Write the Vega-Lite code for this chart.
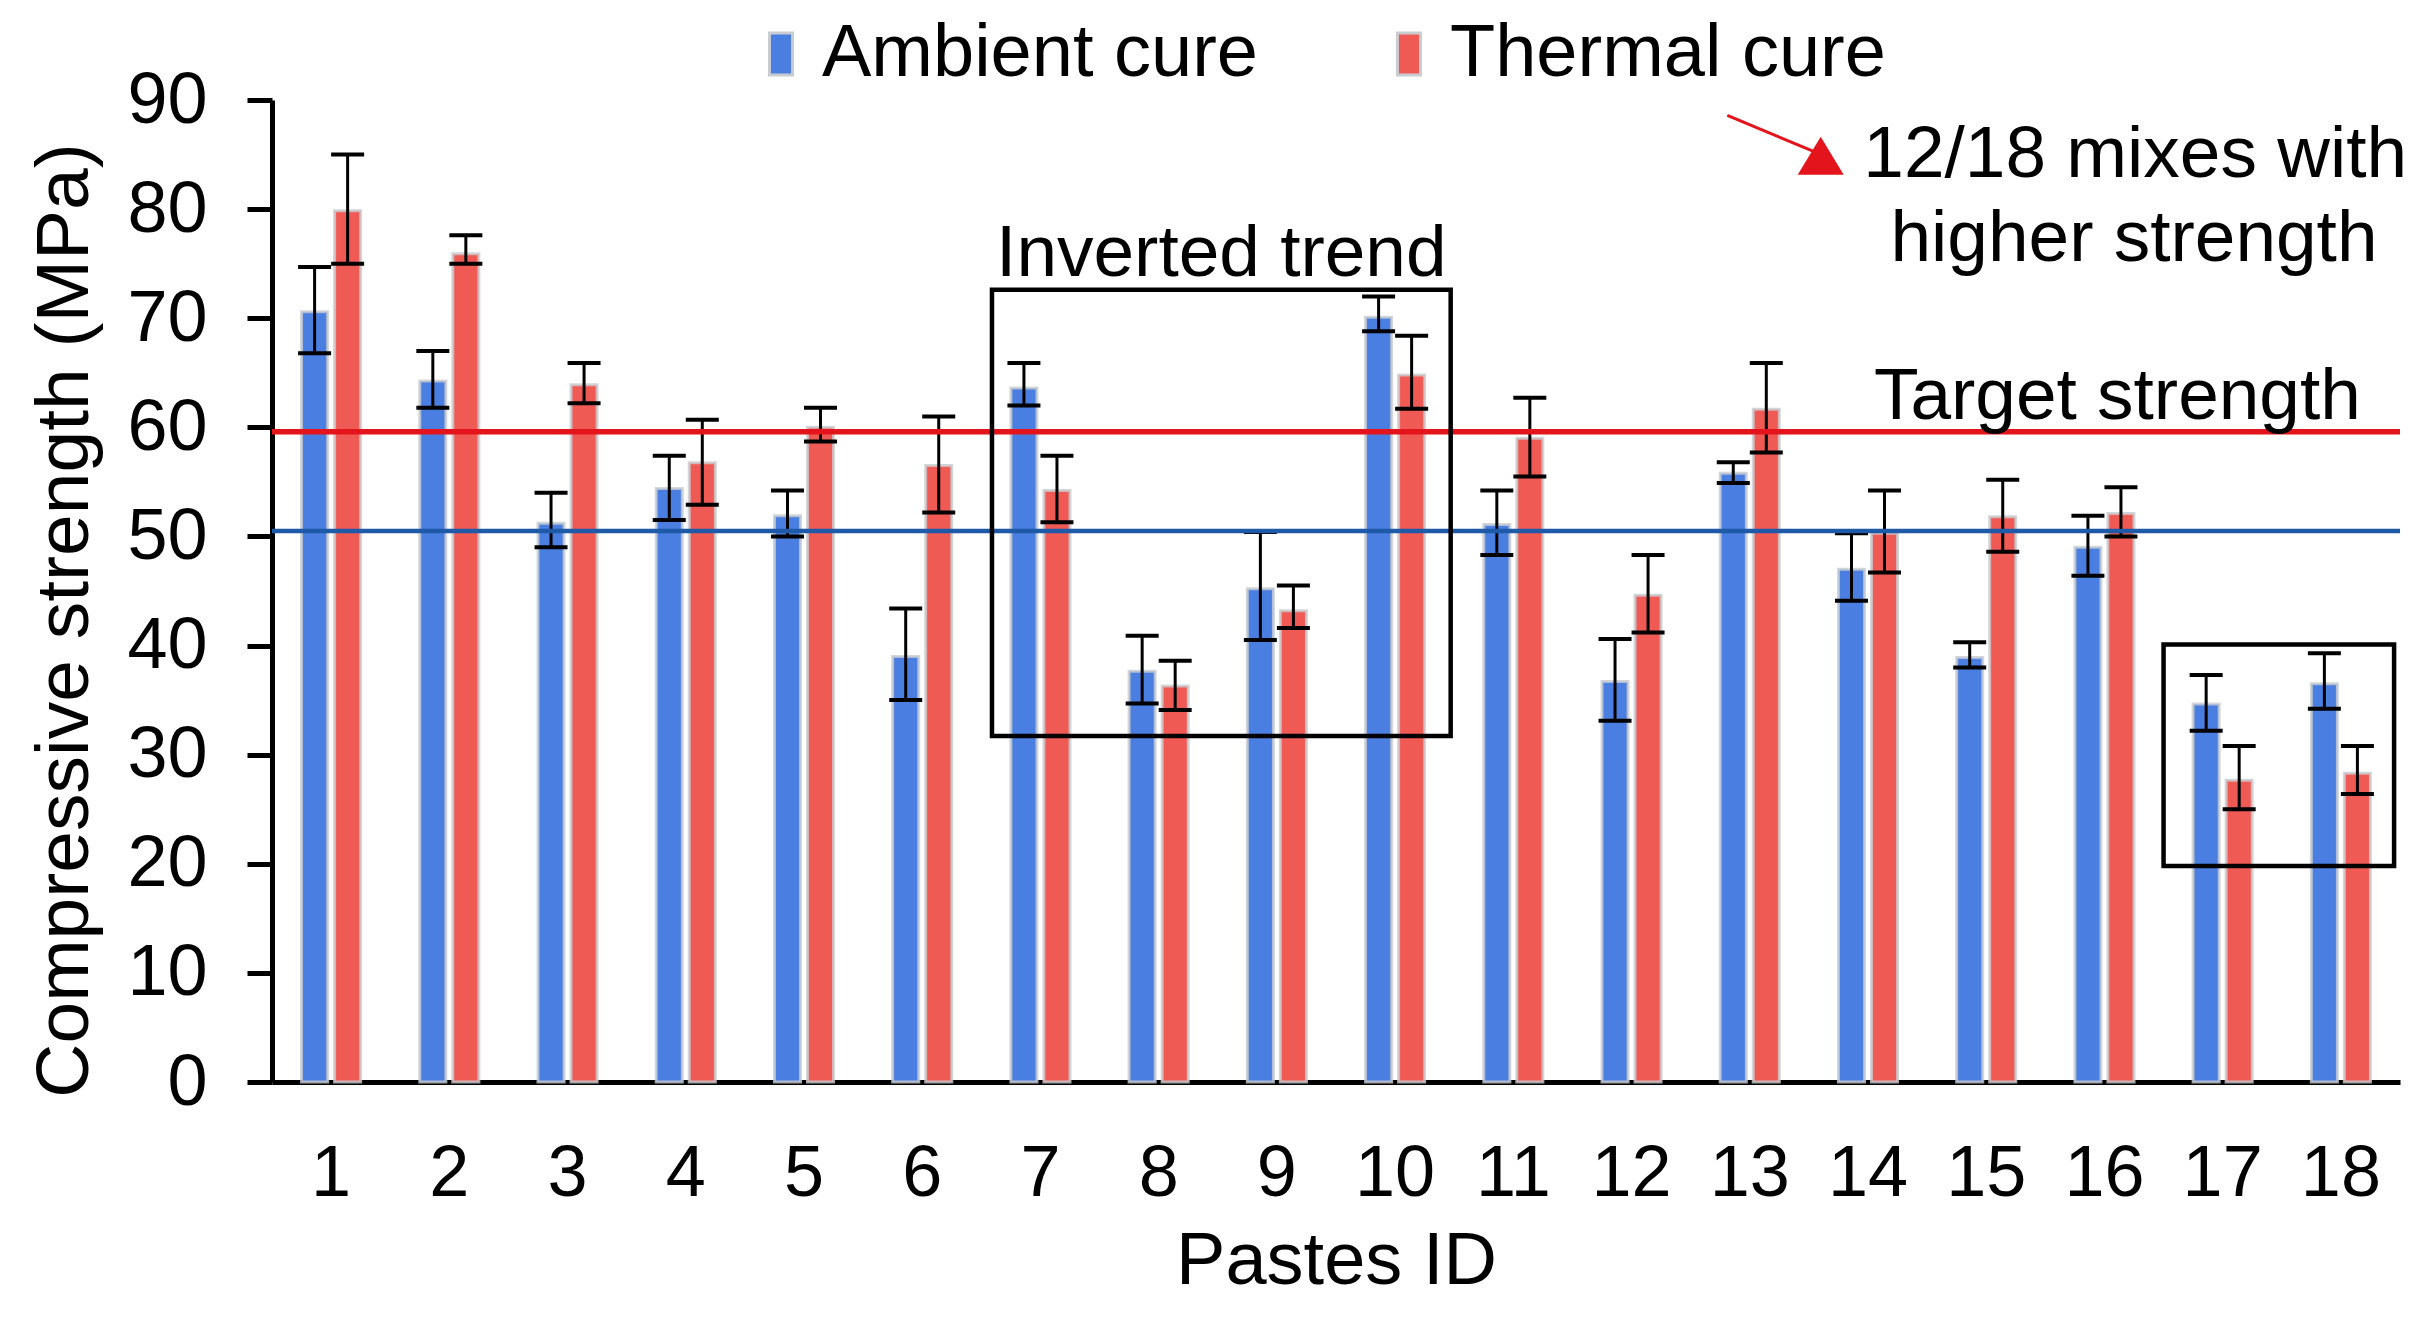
{
  "$schema": "https://vega.github.io/schema/vega-lite/v6.json",
  "width": 2128,
  "height": 982,
  "autosize": {"type": "none"},
  "padding": {"left": 272, "top": 100, "right": 30, "bottom": 235},
  "background": "white",
  "config": {"view": {"stroke": null}, "font": "Liberation Sans"},
  "data": {
    "values": [
      {"id": 1, "cure": "Ambient cure", "value": 70.6, "lower": 66.8, "upper": 74.7},
      {"id": 1, "cure": "Thermal cure", "value": 79.85, "lower": 75.0, "upper": 85.0},
      {"id": 2, "cure": "Ambient cure", "value": 64.25, "lower": 61.8, "upper": 67.0},
      {"id": 2, "cure": "Thermal cure", "value": 75.9, "lower": 75.0, "upper": 77.6},
      {"id": 3, "cure": "Ambient cure", "value": 51.2, "lower": 49.0, "upper": 54.0},
      {"id": 3, "cure": "Thermal cure", "value": 63.9, "lower": 62.2, "upper": 65.9},
      {"id": 4, "cure": "Ambient cure", "value": 54.4, "lower": 51.5, "upper": 57.4},
      {"id": 4, "cure": "Thermal cure", "value": 56.75, "lower": 52.9, "upper": 60.7},
      {"id": 5, "cure": "Ambient cure", "value": 51.9, "lower": 50.0, "upper": 54.2},
      {"id": 5, "cure": "Thermal cure", "value": 60.0, "lower": 58.7, "upper": 61.8},
      {"id": 6, "cure": "Ambient cure", "value": 39.0, "lower": 35.0, "upper": 43.4},
      {"id": 6, "cure": "Thermal cure", "value": 56.5, "lower": 52.2, "upper": 61.0},
      {"id": 7, "cure": "Ambient cure", "value": 63.6, "lower": 62.0, "upper": 65.9},
      {"id": 7, "cure": "Thermal cure", "value": 54.2, "lower": 51.3, "upper": 57.4},
      {"id": 8, "cure": "Ambient cure", "value": 37.65, "lower": 34.7, "upper": 40.9},
      {"id": 8, "cure": "Thermal cure", "value": 36.3, "lower": 34.1, "upper": 38.6},
      {"id": 9, "cure": "Ambient cure", "value": 45.2, "lower": 40.5, "upper": 50.4},
      {"id": 9, "cure": "Thermal cure", "value": 43.2, "lower": 41.6, "upper": 45.5},
      {"id": 10, "cure": "Ambient cure", "value": 70.1, "lower": 68.8, "upper": 72.0},
      {"id": 10, "cure": "Thermal cure", "value": 64.8, "lower": 61.7, "upper": 68.4},
      {"id": 11, "cure": "Ambient cure", "value": 51.1, "lower": 48.3, "upper": 54.2},
      {"id": 11, "cure": "Thermal cure", "value": 59.0, "lower": 55.5, "upper": 62.7},
      {"id": 12, "cure": "Ambient cure", "value": 36.7, "lower": 33.1, "upper": 40.6},
      {"id": 12, "cure": "Thermal cure", "value": 44.6, "lower": 41.2, "upper": 48.3},
      {"id": 13, "cure": "Ambient cure", "value": 55.8, "lower": 54.9, "upper": 56.8},
      {"id": 13, "cure": "Thermal cure", "value": 61.65, "lower": 57.7, "upper": 65.9},
      {"id": 14, "cure": "Ambient cure", "value": 47.0, "lower": 44.1, "upper": 50.3},
      {"id": 14, "cure": "Thermal cure", "value": 50.3, "lower": 46.7, "upper": 54.2},
      {"id": 15, "cure": "Ambient cure", "value": 38.9, "lower": 38.0, "upper": 40.3},
      {"id": 15, "cure": "Thermal cure", "value": 51.8, "lower": 48.6, "upper": 55.2},
      {"id": 16, "cure": "Ambient cure", "value": 49.0, "lower": 46.4, "upper": 51.9},
      {"id": 16, "cure": "Thermal cure", "value": 52.1, "lower": 50.0, "upper": 54.5},
      {"id": 17, "cure": "Ambient cure", "value": 34.65, "lower": 32.2, "upper": 37.3},
      {"id": 17, "cure": "Thermal cure", "value": 27.65, "lower": 25.0, "upper": 30.8},
      {"id": 18, "cure": "Ambient cure", "value": 36.5, "lower": 34.2, "upper": 39.3},
      {"id": 18, "cure": "Thermal cure", "value": 28.3, "lower": 26.4, "upper": 30.8}
    ]
  },
  "layer": [
    {
      "layer": [
        {
          "mark": {"type": "bar", "stroke": "#c9cdd1", "strokeWidth": 3, "strokeOpacity": 0.8},
          "encoding": {
            "x": {
              "field": "id",
              "type": "ordinal",
              "scale": {"paddingInner": 0.5, "paddingOuter": 0.25},
              "axis": {
                "title": "Pastes ID",
                "labelAngle": 0,
                "ticks": false,
                "tickSize": 0,
                "domainColor": "black",
                "domainWidth": 5,
                "labelFont": "Liberation Sans",
                "labelFontSize": 72,
                "labelColor": "black",
                "labelPadding": 56,
                "titleFont": "Liberation Sans",
                "titleFontSize": 74,
                "titleFontWeight": "normal",
                "titleColor": "black",
                "titlePadding": 16
              }
            },
            "xOffset": {"field": "cure", "type": "nominal", "scale": {"paddingInner": 0.21, "paddingOuter": 0}},
            "y": {
              "field": "value",
              "type": "quantitative",
              "scale": {"domain": [0, 90], "nice": false},
              "axis": {
                "values": [0, 10, 20, 30, 40, 50, 60, 70, 80, 90],
                "grid": false,
                "domainColor": "black",
                "domainWidth": 5,
                "tickColor": "black",
                "tickWidth": 5,
                "tickSize": 25,
                "labelFont": "Liberation Sans",
                "labelFontSize": 72,
                "labelColor": "black",
                "labelPadding": 40,
                "title": "Compressive strength (MPa)",
                "titleFont": "Liberation Sans",
                "titleFontSize": 75,
                "titleFontWeight": "normal",
                "titleColor": "black",
                "titlePadding": 23,
                "titleY": 520
              }
            },
            "color": {
              "field": "cure",
              "type": "nominal",
              "scale": {"domain": ["Ambient cure", "Thermal cure"], "range": ["#4a7ee0", "#f05a55"]},
              "legend": {
                "orient": "none",
                "legendX": 472,
                "legendY": -83,
                "direction": "horizontal",
                "title": null,
                "padding": 0,
                "symbolType": "M-0.55,-1L0.55,-1L0.55,1L-0.55,1Z",
                "symbolSize": 1764,
                "symbolStrokeColor": "#c9cdd1",
                "symbolStrokeWidth": 3,
                "labelFont": "Liberation Sans",
                "labelFontSize": 74,
                "labelColor": "black",
                "labelOffset": 4,
                "labelLimit": 0,
                "columnPadding": 114
              }
            }
          }
        },
        {
          "mark": {"type": "rule", "color": "black", "strokeWidth": 3},
          "encoding": {
            "x": {"field": "id", "type": "ordinal"},
            "xOffset": {"field": "cure", "type": "nominal"},
            "y": {"field": "lower", "type": "quantitative"},
            "y2": {"field": "upper"}
          }
        },
        {
          "mark": {"type": "tick", "orient": "horizontal", "size": 33, "thickness": 4, "color": "black", "opacity": 1},
          "encoding": {
            "x": {"field": "id", "type": "ordinal"},
            "xOffset": {"field": "cure", "type": "nominal"},
            "y": {"field": "lower", "type": "quantitative"}
          }
        },
        {
          "mark": {"type": "tick", "orient": "horizontal", "size": 33, "thickness": 4, "color": "black", "opacity": 1},
          "encoding": {
            "x": {"field": "id", "type": "ordinal"},
            "xOffset": {"field": "cure", "type": "nominal"},
            "y": {"field": "upper", "type": "quantitative"}
          }
        }
      ]
    },
    {
      "layer": [
        {
          "data": {"values": [{}]},
          "mark": {"type": "rule", "color": "#e3141b", "strokeWidth": 5.5},
          "encoding": {"y": {"datum": 59.6, "type": "quantitative"}}
        },
        {
          "data": {"values": [{}]},
          "mark": {"type": "rule", "color": "#1f5aa8", "strokeWidth": 4.5},
          "encoding": {"y": {"datum": 50.5, "type": "quantitative"}}
        },
        {
          "data": {"values": [{}]},
          "mark": {"type": "rect", "fillOpacity": 0, "stroke": "black", "strokeWidth": 4.5},
          "encoding": {
            "x": {"datum": 6.59, "type": "quantitative", "scale": {"domain": [0.5, 18.5]}, "axis": null},
            "x2": {"datum": 10.47},
            "y": {"datum": 72.6, "type": "quantitative"},
            "y2": {"datum": 31.7}
          }
        },
        {
          "data": {"values": [{}]},
          "mark": {"type": "rect", "fillOpacity": 0, "stroke": "black", "strokeWidth": 4.5},
          "encoding": {
            "x": {"datum": 16.5, "type": "quantitative", "scale": {"domain": [0.5, 18.5]}, "axis": null},
            "x2": {"datum": 18.45},
            "y": {"datum": 40.1, "type": "quantitative"},
            "y2": {"datum": 19.8}
          }
        },
        {
          "data": {"values": [{}]},
          "mark": {"type": "rule", "color": "#e3141b", "strokeWidth": 3},
          "encoding": {
            "x": {"datum": 12.81, "type": "quantitative", "scale": {"domain": [0.5, 18.5]}, "axis": null},
            "x2": {"datum": 13.55},
            "y": {"datum": 88.6, "type": "quantitative"},
            "y2": {"datum": 85.24}
          }
        },
        {
          "data": {"values": [{}]},
          "mark": {"type": "point", "shape": "M0,-0.85L1,0.8L-1,0.8Z", "filled": true, "size": 2116, "color": "#e3141b", "opacity": 1},
          "encoding": {
            "x": {"datum": 13.6, "type": "quantitative", "scale": {"domain": [0.5, 18.5]}, "axis": null},
            "y": {"datum": 84.83, "type": "quantitative"}
          }
        },
        {
          "data": {"values": [{}]},
          "mark": {"type": "text", "text": "Inverted trend", "align": "left", "baseline": "alphabetic", "font": "Liberation Sans", "fontSize": 73, "color": "black"},
          "encoding": {
            "x": {"datum": 6.625, "type": "quantitative", "scale": {"domain": [0.5, 18.5]}, "axis": null},
            "y": {"datum": 73.9, "type": "quantitative"}
          }
        },
        {
          "data": {"values": [{}]},
          "mark": {"type": "text", "text": "Target strength", "align": "left", "baseline": "alphabetic", "font": "Liberation Sans", "fontSize": 73, "color": "black"},
          "encoding": {
            "x": {"datum": 14.05, "type": "quantitative", "scale": {"domain": [0.5, 18.5]}, "axis": null},
            "y": {"datum": 60.77, "type": "quantitative"}
          }
        },
        {
          "data": {"values": [{}]},
          "mark": {"type": "text", "text": "12/18 mixes with", "align": "center", "baseline": "alphabetic", "font": "Liberation Sans", "fontSize": 73, "color": "black"},
          "encoding": {
            "x": {"datum": 16.26, "type": "quantitative", "scale": {"domain": [0.5, 18.5]}, "axis": null},
            "y": {"datum": 82.95, "type": "quantitative"}
          }
        },
        {
          "data": {"values": [{}]},
          "mark": {"type": "text", "text": "higher strength", "align": "center", "baseline": "alphabetic", "font": "Liberation Sans", "fontSize": 73, "color": "black"},
          "encoding": {
            "x": {"datum": 16.25, "type": "quantitative", "scale": {"domain": [0.5, 18.5]}, "axis": null},
            "y": {"datum": 75.25, "type": "quantitative"}
          }
        }
      ]
    }
  ],
  "resolve": {"scale": {"x": "independent"}}
}
